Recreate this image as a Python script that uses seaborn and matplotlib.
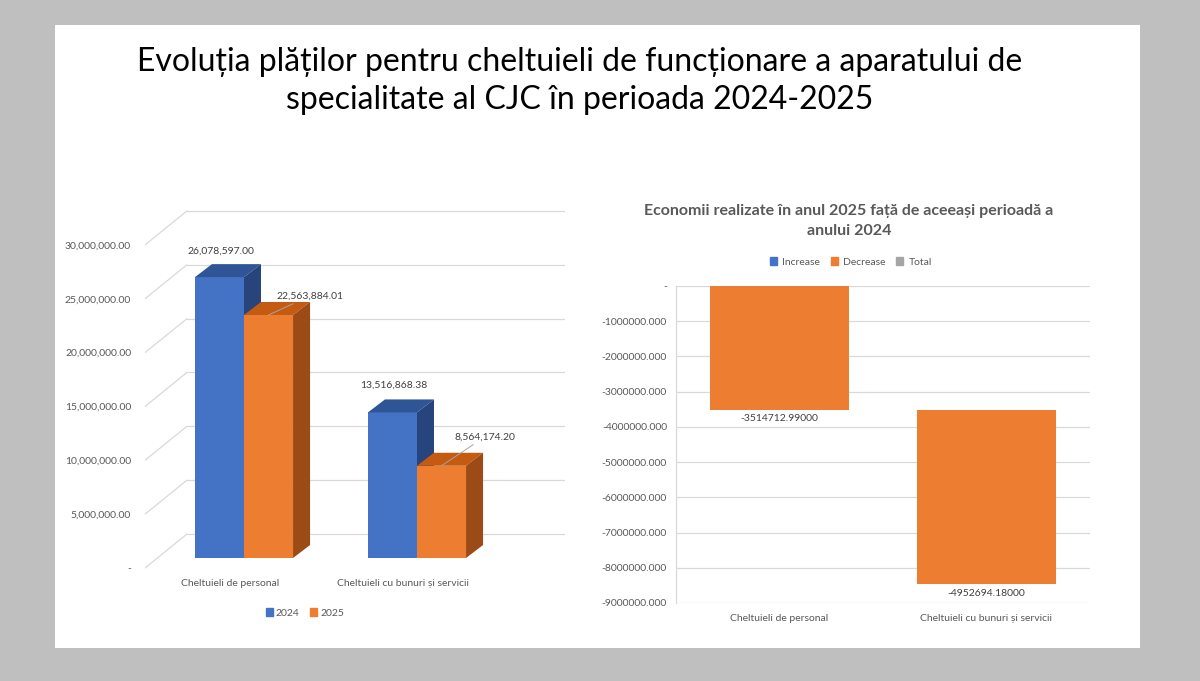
import numpy as np
import pandas as pd
import matplotlib
matplotlib.use("Agg")
import matplotlib.pyplot as plt
import seaborn as sns
from matplotlib.patches import Polygon, Rectangle, Patch
import matplotlib.transforms as mtrans

# ---------------- data ----------------
categories = ["Cheltuieli de personal", "Cheltuieli cu bunuri și servicii"]
years = ["2024", "2025"]
values_2024 = [26078597.00, 13516868.38]
values_2025 = [22563884.01, 8564174.20]
savings = [-3514712.99, -4952694.18]
left_ticks = [0, 5e6, 10e6, 15e6, 20e6, 25e6, 30e6]
right_ticks = [0, -1e6, -2e6, -3e6, -4e6, -5e6, -6e6, -7e6, -8e6, -9e6]
waterfall_legend = ["Increase", "Decrease", "Total"]
main_title = ("Evoluția plăților pentru cheltuieli de funcționare a aparatului de\n"
              "specialitate al CJC în perioada 2024-2025")
sub_title = "Economii realizate în anul 2025 față de aceeași perioadă a\nanului 2024"

# ---------------- style ----------------
sns.set_theme(style="white")
plt.rcParams["font.family"] = ["Lato", "DejaVu Sans"]
BLUE, ORANGE, GRAY = "#4472c4", "#ed7d31", "#a5a5a5"
TOP = {"2024": "#2f5597", "2025": "#c55a11"}
SIDE = {"2024": "#27457c", "2025": "#9c4a16"}
TXT = "#595959"
GRID = "#d9d9d9"

W, H = 1200, 681
fig = plt.figure(figsize=(12, 6.81), dpi=100)
fig.patch.set_facecolor("#bfbfbf")
fig.add_artist(Rectangle((55 / W, 1 - 648 / H), (1140 - 55) / W, (648 - 25) / H,
                         transform=fig.transFigure, facecolor="white",
                         edgecolor="none", zorder=0))


def axes_px(x0, y0, x1, y1):
    ax = fig.add_axes([x0 / W, 1 - y1 / H, (x1 - x0) / W, (y1 - y0) / H])
    ax.set_facecolor("none")
    return ax


fig.text(580 / W, 1 - 81 / H, main_title, ha="center", va="center",
         fontsize=23, color="black", linespacing=1.32,
         family=["Lato", "DejaVu Sans"])

# ---------------- left: pseudo 3D clustered bars ----------------
AX_L, AX_T, AX_R, AX_B = 145, 200, 565, 575
BASE_PX = 558          # front face baseline
K = 10.77 / 1e6        # px per value unit
U = 173.0              # px per category unit
X0_PX = 244            # pixel of category 0
ax1 = axes_px(AX_L, AX_T, AX_R, AX_B)

df = pd.DataFrame({
    "cat": categories * 2,
    "year": [years[0]] * 2 + [years[1]] * 2,
    "value": values_2024 + values_2025,
})
sns.barplot(data=df, x="cat", y="value", hue="year", hue_order=years,
            palette=[BLUE, ORANGE], width=0.567, saturation=1,
            ax=ax1, legend=False)
ax1.set_ylim((BASE_PX - AX_B) / K, (BASE_PX - AX_T) / K)
ax1.set_xlim((AX_L - X0_PX) / U, (AX_R - X0_PX) / U)

DX, DY = 17 / U, 13 / K            # bar depth
FRONT_OFF = -10 / K                # front axis level relative to bar base
BACK_OFF = 24 / K                  # back wall relative to bar base
x_front = (AX_L - X0_PX) / U
x_back = (187 - X0_PX) / U
for v in left_ticks:
    ax1.plot([x_front, x_back], [v + FRONT_OFF, v + BACK_OFF], color=GRID, lw=0.9, zorder=1)
    ax1.plot([x_back, (AX_R - X0_PX) / U], [v + BACK_OFF, v + BACK_OFF], color=GRID, lw=0.9, zorder=1)

label_offsets_px = {"2024": [(1.5, 26), (1.0, 27)], "2025": [(41.5, 19), (43.5, 29)]}
for i, (yr, cont) in enumerate(zip(years, ax1.containers)):
    for j, bar in enumerate(cont):
        bar.set_zorder(3 + i)
        bar.set_edgecolor("none")
        x0 = bar.get_x()
        x1 = x0 + bar.get_width()
        h = bar.get_height()
        top = Polygon([(x0, h), (x1, h), (x1 + DX, h + DY), (x0 + DX, h + DY)],
                      closed=True, facecolor=TOP[yr], edgecolor="none", zorder=3 + i + 0.5)
        side = Polygon([(x1, 0), (x1, h), (x1 + DX, h + DY), (x1 + DX, DY)],
                       closed=True, facecolor=SIDE[yr], edgecolor="none", zorder=3 + i + 0.5)
        ax1.add_patch(top)
        ax1.add_patch(side)
        ox, oy = label_offsets_px[yr][j]
        arrow = None
        if yr == "2025":
            arrow = dict(arrowstyle="-", color="#a6a6a6", lw=0.7, shrinkA=0, shrinkB=0)
        ax1.annotate(f"{h:,.2f}", xy=((x0 + x1) / 2, h),
                     xytext=(ox * 0.72, oy * 0.72), textcoords="offset points",
                     ha="center", va="center", fontsize=7.5, color="#404040",
                     arrowprops=arrow, zorder=10)

ax1.set_yticks([v + FRONT_OFF for v in left_ticks],
               labels=["-" if v == 0 else f"{v:,.2f}" for v in left_ticks])
ax1.set_xticks(range(len(categories)), labels=categories)
ax1.tick_params(axis="y", length=0, pad=10, labelsize=7.5, labelcolor=TXT)
ax1.tick_params(axis="x", length=0, pad=3, labelsize=7.5, labelcolor=TXT)
shift = mtrans.ScaledTranslation(-14 / 100, 0, fig.dpi_scale_trans)
for lab in ax1.get_xticklabels():
    lab.set_transform(lab.get_transform() + shift)
ax1.set_xlabel("")
ax1.set_ylabel("")
for s in ax1.spines.values():
    s.set_visible(False)

fig.legend(handles=[Patch(color=BLUE, label=years[0]), Patch(color=ORANGE, label=years[1])],
           loc="center", bbox_to_anchor=(305 / W, 1 - 613 / H), ncol=2, frameon=False,
           fontsize=7.5, labelcolor=TXT, handlelength=0.7, handleheight=0.7,
           handletextpad=0.3, columnspacing=1.0)

# ---------------- right: waterfall ----------------
ax2 = axes_px(676, 286, 1090, 603)
sns.barplot(x=categories, y=savings, color=ORANGE, width=0.667, saturation=1, ax=ax2)
starts = np.concatenate([[0], np.cumsum(savings)[:-1]])
ends = np.cumsum(savings)
for bar, st, d in zip(ax2.patches, starts, savings):
    bar.set_y(st)
    bar.set_height(d)
    bar.set_edgecolor("none")
    bar.set_zorder(3)
for i, (en, d) in enumerate(zip(ends, savings)):
    ax2.annotate(f"{d:.5f}", xy=(i, en), xytext=(0, -6.5), textcoords="offset points",
                 ha="center", va="center", fontsize=7.5, color="#404040", zorder=10)
ax2.set_ylim(-9e6, 0)
ax2.set_xlim(-0.5, 1.5)
ax2.set_yticks(right_ticks, labels=["-" if v == 0 else f"{v:.3f}" for v in right_ticks])
ax2.grid(axis="y", color=GRID, lw=0.9, zorder=0)
ax2.set_axisbelow(True)
ax2.tick_params(axis="y", length=0, pad=6.5, labelsize=7.5, labelcolor=TXT)
ax2.tick_params(axis="x", length=0, pad=8, labelsize=7.5, labelcolor=TXT)
for name, s in ax2.spines.items():
    if name == "left":
        s.set_color(GRID)
        s.set_linewidth(0.9)
    else:
        s.set_visible(False)
ax2.set_xlabel("")
ax2.set_ylabel("")

fig.text(849 / W, 1 - 221 / H, sub_title, ha="center", va="center",
         fontsize=11.5, fontweight="bold", color=TXT, linespacing=1.5)
fig.legend(handles=[Patch(color=c, label=l) for c, l in zip([BLUE, ORANGE, GRAY], waterfall_legend)],
           loc="center", bbox_to_anchor=(851 / W, 1 - 262 / H), ncol=3, frameon=False,
           fontsize=7.5, labelcolor=TXT, handlelength=0.7, handleheight=0.7,
           handletextpad=0.5, columnspacing=1.0)

fig.savefig("out.png", dpi=100, facecolor=fig.get_facecolor())
